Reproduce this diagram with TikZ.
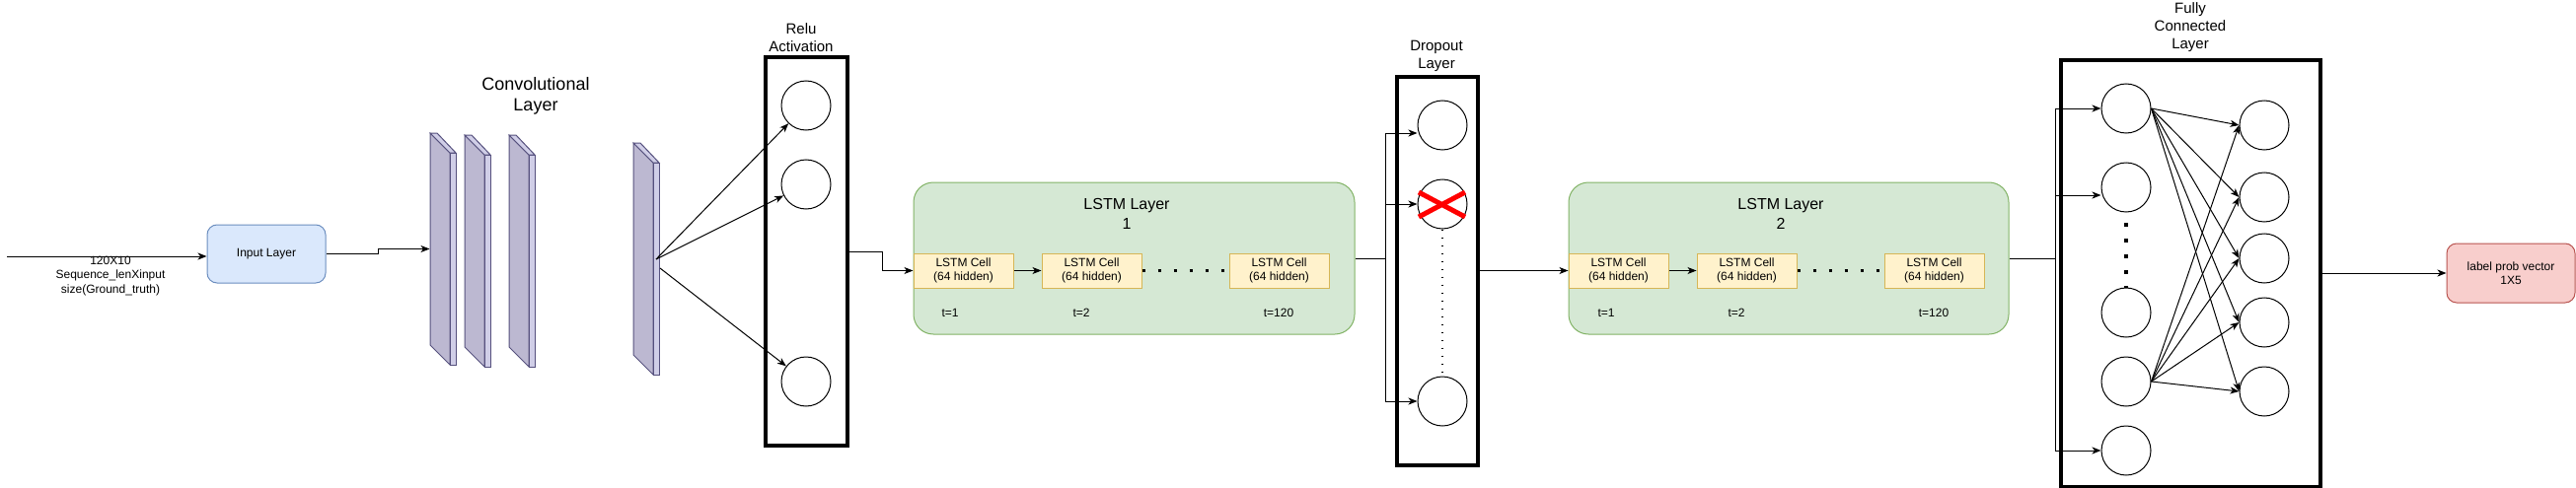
\documentclass[tikz,border=0pt]{standalone}
\usepackage{fontspec}
\setmainfont{Liberation Sans}
\usetikzlibrary{arrows.meta,positioning}
\definecolor{inFill}{HTML}{DAE8FC}
\definecolor{inLine}{HTML}{6C8EBF}
\definecolor{lstmFill}{HTML}{D5E8D4}
\definecolor{lstmLine}{HTML}{82B366}
\definecolor{cellFill}{HTML}{FFF2CC}
\definecolor{cellLine}{HTML}{D6B656}
\definecolor{outFill}{HTML}{F8CECC}
\definecolor{outLine}{HTML}{B85450}
\definecolor{plateDark}{HTML}{BCB8D1}
\definecolor{plateLight}{HTML}{D0CEE7}
\definecolor{plateLine}{HTML}{56517E}
\newcommand{\txtS}{\fontsize{12}{14.5}\selectfont}
\newcommand{\txtM}{\fontsize{15}{18}\selectfont}
\newcommand{\txtL}{\fontsize{16}{20}\selectfont}
\newcommand{\txtXL}{\fontsize{18}{21}\selectfont}

\begin{document}
\begin{tikzpicture}[x=1pt,y=-1pt,line width=1pt,>={Stealth[length=9pt,width=7pt,inset=2.5pt]},
  neuron/.style={circle,draw,minimum size=50,inner sep=0},
  layerbox/.style={draw,line width=4pt,inner sep=0},
  cell/.style={draw=cellLine,fill=cellFill,minimum width=101,minimum height=35,inner sep=0,align=center,font=\txtS},
  lstmbox/.style={draw=lstmLine,fill=lstmFill,rounded corners=20pt,minimum width=446,minimum height=154,inner sep=0},
  bigdots/.style={line width=3pt,dash pattern=on 3pt off 13pt},
  smalldots/.style={line width=1.6pt,dash pattern=on 1.6pt off 6.4pt},
  xmark/.style={draw=red,line width=5pt}]
\useasboundingbox (0,0) rectangle (2611,495);
% ---- input ----
\coordinate (src) at (7,260);
\node[draw=inLine,fill=inFill,rounded corners=10pt,minimum width=120,minimum height=59,font=\txtS] (inp) at (270,257.5) {Input Layer};
\draw[->] (src) -- (src -| inp.west);
\node[font=\txtS,align=center] (srclbl) at (112,280) {120X10\\Sequence\_lenXinput\\size(Ground\_truth)};
% ---- convolutional plates ----
\node[font=\txtXL,align=center] (convlbl) at (543,97) {Convolutional\\Layer};
\foreach \px/\py [count=\i] in {436/135,471/137,516/137,642/145} {
  \filldraw[fill=plateDark,draw=plateLine] (\px,\py) -- ++(20,20) -- ++(0,215) -- ++(-20,-20) -- cycle;
  \filldraw[fill=plateLight,draw=plateLine] (\px+20,\py+20) -- ++(6,0) -- ++(0,215) -- ++(-6,0) -- cycle;
  \filldraw[fill=plateLight,draw=plateLine] (\px,\py) -- ++(7,0) -- ++(19,20) -- ++(-6,0) -- cycle;
  \node[inner sep=0,minimum width=26,minimum height=235] (p\i) at (\px+13,\py+117.5) {};
}
\draw[->] (inp.east) -- ++(53,0) |- (p1.west);
\coordinate (p4out) at (665,263);
\coordinate (p4low) at (669,272);
% ---- relu activation ----
\node[font=\txtM,align=center] (relulbl) at (812,38) {Relu\\Activation};
\node[layerbox,minimum width=83,minimum height=394] (relu) at (817.5,255) {};
\node[neuron] (r1) at (817,107) {};
\node[neuron] (r2) at (817,187) {};
\node[neuron] (r3) at (817,387) {};
\draw[->] (p4out) -- (r1);
\draw[->] (p4out) -- (r2);
\draw[->] (p4low) -- (r3);
% ---- lstm layer 1 ----
\node[lstmbox,minimum width=447] (lstm1) at (1149.5,262) {};
\node[font=\txtL,align=center] (lstm1lbl) at (1142,217) {LSTM Layer\\1};
\node[cell] (a1) at (976.5,274.5) {LSTM Cell\\(64 hidden)};
\node[cell] (a2) at (1106.5,274.5) {LSTM Cell\\(64 hidden)};
\node[cell] (a3) at (1296.5,274.5) {LSTM Cell\\(64 hidden)};
\draw[->] (relu.east) -- ++(33,0) |- (a1.west);
\draw[->] (a1) -- (a2);
\draw[bigdots] (a2.east) -- (a3.west);
\node[font=\txtS] (ta1) at (963,317) {t=1};
\node[font=\txtS] (ta2) at (1096,317) {t=2};
\node[font=\txtS] (ta3) at (1296,317) {t=120};
% ---- dropout layer ----
\node[font=\txtM,align=center] (droplbl) at (1456,57) {Dropout\\Layer};
\node[layerbox,minimum width=82,minimum height=394] (drop) at (1457,275) {};
\node[neuron] (d1) at (1462,127) {};
\node[neuron] (d2) at (1462,207) {};
\node[neuron] (d3) at (1462,407) {};
\draw[xmark] ([shift={(-24,-12)}]d2.center) -- ([shift={(23,13)}]d2.center);
\draw[xmark] ([shift={(-24,13)}]d2.center) -- ([shift={(23,-12)}]d2.center);
\draw[smalldots] (d2.south) -- (d3.north);
\coordinate (dsplit) at (1404,262);
\draw (lstm1.east) -- (dsplit);
\draw[->] (dsplit) |- ([yshift=-8pt]d1.west);
\draw[->] (dsplit) |- (d2.west);
\draw[->] (dsplit) |- (d3.west);
% ---- lstm layer 2 ----
\node[lstmbox] (lstm2) at (1813,262) {};
\node[font=\txtL,align=center] (lstm2lbl) at (1805,217) {LSTM Layer\\2};
\node[cell] (b1) at (1640.5,274.5) {LSTM Cell\\(64 hidden)};
\node[cell] (b2) at (1770.5,274.5) {LSTM Cell\\(64 hidden)};
\node[cell] (b3) at (1960.5,274.5) {LSTM Cell\\(64 hidden)};
\draw[->] (drop.east |- b1.west) -- (b1.west);
\draw[->] (b1) -- (b2);
\draw[bigdots] (b2.east) -- (b3.west);
\node[font=\txtS] (tb1) at (1628,317) {t=1};
\node[font=\txtS] (tb2) at (1760,317) {t=2};
\node[font=\txtS] (tb3) at (1960,317) {t=120};
% ---- fully connected layer ----
\node[font=\txtM,align=center] (fclbl) at (2220,28) {Fully\\Connected\\Layer};
\node[layerbox,minimum width=263,minimum height=433] (fc) at (2220.5,277.5) {};
\foreach \y [count=\i] in {110,190,317,387,457} \node[neuron] (f\i) at (2155,\y) {};
\foreach \y [count=\i] in {127,200,262,327,397} \node[neuron] (g\i) at (2295,\y) {};
\draw[line width=3.5pt,dash pattern=on 3.5pt off 12.5pt] ([yshift=-10.5pt]f2.south) -- (f3.north);
\coordinate (fsplit) at (2083,262);
\draw (lstm2.east) -- (fsplit);
\draw[->] (fsplit) |- (f1.west);
\draw[->] (fsplit) |- ([yshift=-8pt]f2.west);
\draw[->] (fsplit) |- (f5.west);
\foreach \j in {1,...,5} {
  \draw[->] (f1.east) -- (g\j.west);
  \draw[->] (f4.east) -- (g\j.west);
}
% ---- output ----
\node[draw=outLine,fill=outFill,rounded corners=10pt,minimum width=130,minimum height=60,align=center,font=\txtS] (out) at (2545,277) {label prob vector\\1X5};
\draw[->] (fc.east |- out.west) -- (out.west);
\end{tikzpicture}
\end{document}
